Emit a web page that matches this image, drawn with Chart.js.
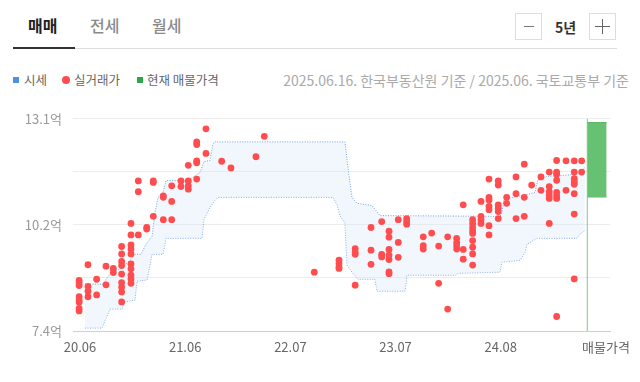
<!DOCTYPE html>
<html><head><meta charset="utf-8">
<script src="https://cdn.jsdelivr.net/npm/chart.js@4.4.1/dist/chart.umd.min.js"></script>
<style>
body{margin:0;width:640px;height:382px;background:#fff;font-family:"Noto Sans CJK KR","Noto Sans",sans-serif;position:relative;overflow:hidden}
.a{position:absolute;white-space:nowrap}
.tab{top:13px;font-size:16px;line-height:24px;font-weight:500;color:#8a8a8a}
.box{width:25px;height:25px;border:1px solid #ddd;top:13px;background:#fff}
.lg{top:71px;font-size:12.5px;line-height:18px;color:#666}
</style></head><body>
<div class="a tab" style="left:28px;color:#222;font-weight:700">매매</div>
<div class="a tab" style="left:90px">전세</div>
<div class="a tab" style="left:152px">월세</div>
<div class="a" style="left:13px;top:48px;width:604px;height:1px;background:#ddd"></div>
<div class="a" style="left:13px;top:47px;width:62px;height:2px;background:#333"></div>
<div class="a box" style="left:515px"><div class="a" style="left:8px;top:12px;width:10px;height:1px;background:#777"></div></div>
<div class="a" style="left:555px;top:15px;font-size:14px;line-height:24px;font-weight:700;color:#333">5년</div>
<div class="a box" style="left:589px"><div class="a" style="left:5px;top:12px;width:15px;height:1px;background:#666"></div><div class="a" style="left:12px;top:5px;width:1px;height:15px;background:#666"></div></div>

<div class="a" style="left:13px;top:77px;width:6px;height:6px;background:#4a8fe8"></div>
<div class="a lg" style="left:24px">시세</div>
<div class="a" style="left:62px;top:76px;width:8px;height:8px;border-radius:50%;background:#ff4d4f"></div>
<div class="a lg" style="left:74px">실거래가</div>
<div class="a" style="left:137px;top:77px;width:6px;height:6px;background:#2ca84a"></div>
<div class="a lg" style="left:147px">현재 매물가격</div>
<div class="a lg" style="right:11px;font-size:14px;color:#aaa">2025.06.16. 한국부동산원 기준 / 2025.06. 국토교통부 기준</div>

<canvas id="c" class="a" style="left:0;top:100px" width="640" height="282"></canvas>
<script>
// x values: months counted from 2020.06 (tick 20.06 = 0); y values: price in 억
const xTickPos = [0, 12.5, 25, 37.5, 50, 62.5];
const xTickLabels = ['20.06', '21.06', '22.07', '23.07', '24.08', '매물가격'];
const yTickVals = [7.4, 8.825, 10.25, 11.675, 13.1];
const yTickLabels = ['7.4억', '', '10.2억', '', '13.1억'];

// 실거래가: [month, [prices...]]
const dealColumns = [
  [-0.1, [8.76, 8.69, 8.62, 8.32, 8.23, 8.17, 8.01, 7.94]],
  [0.95, [9.18, 8.60, 8.47, 8.32]],
  [1.98, [8.79, 8.37]],
  [3.09, [9.14, 8.64]],
  [3.96, [9.08, 8.97]],
  [4.95, [9.67, 9.47, 9.27, 9.16, 8.93, 8.70, 8.58, 8.45, 8.18]],
  [6.06, [10.29, 9.98, 9.71, 9.60, 9.47, 9.20, 9.07, 8.90, 8.80, 8.68]],
  [6.93, [11.43, 11.14, 9.98]],
  [7.93, [10.18, 10.14]],
  [8.71, [11.43, 11.39, 10.48]],
  [9.90, [11.03, 10.99, 10.39]],
  [10.90, [11.30, 10.88, 10.39]],
  [12.0, [11.43, 11.28]],
  [12.87, [11.85, 11.43, 11.30, 11.21]],
  [13.87, [12.48, 12.41, 11.97, 11.92, 11.48]],
  [14.97, [12.83, 12.17]],
  [16.84, [11.96]],
  [17.94, [11.78]],
  [20.91, [12.08]],
  [21.90, [12.63]],
  [27.84, [8.98]],
  [30.78, [9.30, 9.21, 9.12, 9.08]],
  [32.70, [9.61, 9.52, 9.46, 8.63]],
  [34.58, [10.18, 9.57, 9.19]],
  [35.85, [10.34, 9.46, 9.39]],
  [36.72, [10.08, 9.92, 9.59, 9.44, 9.32, 8.99, 8.94]],
  [37.82, [10.39, 9.78, 9.38]],
  [38.82, [10.42, 10.34, 10.27]],
  [40.79, [9.93, 9.69, 9.60]],
  [41.79, [10.03]],
  [42.62, [9.68, 8.68]],
  [43.69, [9.93, 7.99]],
  [44.76, [9.89, 9.78, 9.69, 9.60]],
  [45.54, [10.79, 9.59, 9.33]],
  [46.66, [10.39, 10.29, 10.18, 10.09, 10.02, 9.83, 9.65, 9.47, 9.17]],
  [47.65, [10.88, 10.48, 10.39, 10.29]],
  [48.60, [11.48, 10.99, 10.92, 10.75, 10.66, 10.23, 9.98]],
  [49.70, [11.43, 11.32, 10.79, 10.70, 10.61, 10.42]],
  [50.70, [10.99, 10.83]],
  [51.81, [11.54, 11.09, 10.42]],
  [52.79, [11.88, 10.99, 10.48]],
  [53.67, [11.32]],
  [54.78, [11.54, 11.18]],
  [55.76, [11.67, 11.28, 11.14, 11.05, 10.96, 10.29]],
  [56.64, [11.98, 11.67, 11.61, 11.45, 11.12, 11.03, 10.96, 7.79]],
  [57.75, [11.97, 11.18]],
  [58.73, [11.97, 11.67, 11.49, 11.41, 11.34, 11.09, 10.54, 8.80]],
  [59.61, [11.97, 11.67]]
];

// 시세 band (upper / lower): [month, price]
const bandUpper = [
  [0.59, 8.66], [2.73, 8.66], [3.33, 8.87], [3.92, 9.01], [4.75, 9.06], [5.35, 9.17],
  [6.54, 9.46], [7.25, 9.46], [7.84, 9.73], [8.56, 9.94], [8.91, 10.58], [9.27, 10.99],
  [9.86, 11.12], [10.22, 11.44], [12.83, 11.44], [14.26, 11.66], [14.73, 11.95], [15.45, 11.98],
  [15.80, 12.43], [16.04, 12.48], [31.49, 12.48], [31.84, 11.79], [32.32, 10.99], [32.91, 10.83],
  [34.70, 10.77], [35.65, 10.50], [49.90, 10.48], [50.14, 10.58], [50.38, 10.93], [51.45, 10.99],
  [53.11, 11.07], [54.06, 11.12], [54.42, 11.47], [55.49, 11.55], [58.58, 11.60], [59.41, 11.68],
  [60.0, 11.79]
];
const bandLower = [
  [0.59, 7.48], [2.61, 7.48], [3.56, 7.99], [4.99, 7.99], [5.23, 8.18], [6.54, 8.23],
  [6.77, 8.74], [7.96, 8.77], [8.56, 9.46], [9.86, 9.46], [10.22, 9.89], [14.50, 9.89],
  [14.73, 10.40], [15.45, 10.72], [16.04, 10.91], [16.40, 10.99], [30.06, 10.99], [30.54, 10.80],
  [30.89, 10.50], [31.49, 10.29], [31.73, 9.17], [32.32, 8.98], [33.03, 8.79], [35.05, 8.79],
  [35.29, 8.47], [38.62, 8.47], [38.85, 8.90], [44.68, 8.90], [44.91, 8.95], [49.90, 8.98],
  [50.14, 9.25], [52.28, 9.30], [52.88, 9.51], [53.11, 9.73], [54.30, 9.89], [59.05, 9.89],
  [59.41, 10.00], [60.0, 10.10]
];

// 현재 매물가격
const currentMonth = 60.28;
const listingEndMonth = 62.58;
const listingLow = 11.0;
const listingHigh = 13.0;

const xMin = -0.83, xMax = 62.98, yMin = 7.4, yMax = 13.1;

const deals = [];
dealColumns.forEach(([m, ps]) => ps.forEach(p => deals.push({x: m, y: p})));
const toPts = arr => arr.map(([x, y]) => ({x, y}));

new Chart(document.getElementById('c'), {
  type: 'line',
  data: {
    datasets: [
      {data: deals, showLine: false, pointRadius: 3.4, pointHoverRadius: 3.4, pointBorderWidth: 0,
       pointBackgroundColor: '#ff4d4f', backgroundColor: '#ff4d4f', borderColor: '#ff4d4f'},
      {data: toPts(bandUpper), borderColor: 'rgba(95,145,225,0.85)', borderWidth: 1, borderDash: [1, 1.5],
       pointRadius: 0, fill: '+1', backgroundColor: 'rgba(218,233,251,0.38)', tension: 0},
      {data: toPts(bandLower), borderColor: 'rgba(95,145,225,0.85)', borderWidth: 1, borderDash: [1, 1.5],
       pointRadius: 0, fill: false, tension: 0},
      {data: [{x: currentMonth, y: listingHigh}, {x: listingEndMonth, y: listingHigh}],
       borderColor: '#5bb86a', borderWidth: 1, pointRadius: 0, fill: '+1', backgroundColor: '#66c173'},
      {data: [{x: currentMonth, y: listingLow}, {x: listingEndMonth, y: listingLow}],
       borderColor: '#5bb86a', borderWidth: 1, pointRadius: 0, fill: false},
      {data: [{x: currentMonth, y: yMin}, {x: currentMonth, y: yMax}],
       borderColor: '#7cc68a', borderWidth: 1, pointRadius: 0, fill: false}
    ]
  },
  options: {
    animation: false, responsive: false, events: [],
    layout: {padding: {top: 18, right: 30, left: 0, bottom: 0}},
    plugins: {legend: {display: false}, tooltip: {enabled: false}},
    scales: {
      x: {
        type: 'linear', min: xMin, max: xMax,
        grid: {display: false, drawTicks: false},
        border: {display: true, color: '#cfcfcf', width: 1},
        ticks: {autoSkip: false, maxRotation: 0, padding: 8, color: '#666',
          font: {size: 13, family: '"Noto Sans CJK KR","Noto Sans",sans-serif'},
          callback: (v, i) => xTickLabels[i]},
        afterBuildTicks: s => { s.ticks = xTickPos.map(v => ({value: v})); },
        afterFit: s => { s.height = 51; }
      },
      y: {
        min: yMin, max: yMax,
        grid: {color: '#ececec', drawTicks: false},
        border: {display: false},
        ticks: {padding: 11, color: '#999',
          font: {size: 13, family: '"Noto Sans CJK KR","Noto Sans",sans-serif'},
          callback: (v, i) => yTickLabels[i]},
        afterBuildTicks: s => { s.ticks = yTickVals.map(v => ({value: v})); },
        afterFit: s => { s.width = 73; }
      }
    }
  }
});
</script>
</body></html>
